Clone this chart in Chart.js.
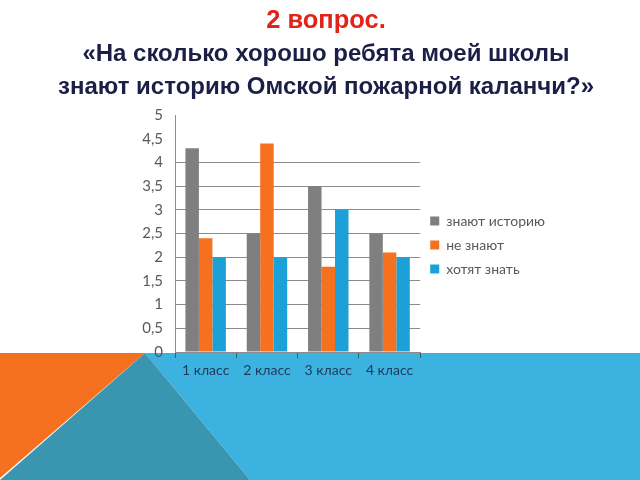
<!DOCTYPE html>
<html>
<head>
<meta charset="utf-8">
<script src="https://cdn.jsdelivr.net/npm/chart.js@4/dist/chart.umd.min.js"></script>
<style>
  body { margin: 0; width: 640px; height: 480px; overflow: hidden; background: #fff; }
  #wrap { position: relative; width: 640px; height: 480px; }
  #myChart { position: absolute; left: 0; top: 0; }
  .head { position: absolute; left: 0; width: 652px; text-align: center; font-family: "Liberation Sans", Arial, sans-serif; font-weight: bold; font-size: 24px; line-height: 33px; }
  #q { top: 3px; color: #e2231a; font-size: 25.5px; }
  #sub { top: 36px; color: #1b1f45; }
</style>
</head>
<body>
<div id="wrap">
  <canvas id="myChart" width="640" height="480"></canvas>
  <div class="head" id="q">2 вопрос.</div>
  <div class="head" id="sub">«На сколько хорошо ребята моей школы<br>знают историю Омской пожарной каланчи?»</div>
</div>
<script>
const categories = ["1 класс", "2 класс", "3 класс", "4 класс"];
const knowHistory = [4.3, 2.5, 3.5, 2.5];
const dontKnow = [2.4, 4.4, 1.8, 2.1];
const wantToKnow = [2, 2, 3, 2];
const seriesNames = ["знают историю", "не знают", "хотят знать"];

// slide decoration at the bottom
const slideBg = {
  id: "slideBg",
  beforeDraw: (chart) => {
    const c = chart.ctx;
    c.save();
    c.fillStyle = "#ffffff";
    c.fillRect(0, 0, 640, 480);
    c.fillStyle = "#3cb2e0";
    c.beginPath();
    c.moveTo(145, 353); c.lineTo(640, 353); c.lineTo(640, 480); c.lineTo(250, 480);
    c.fill();
    c.fillStyle = "#f5701f";
    c.beginPath();
    c.moveTo(0, 353); c.lineTo(145, 353); c.lineTo(0, 478);
    c.fill();
    c.fillStyle = "#3a95b1";
    c.beginPath();
    c.moveTo(145, 353); c.lineTo(250, 480); c.lineTo(0, 480);
    c.fill();
    c.restore();
  },
};

const ctx = document.getElementById("myChart").getContext("2d");
const myChart = new Chart(ctx, {
  type: "bar",
  data: {
    labels: categories,
    datasets: [
      { label: seriesNames[0], data: knowHistory, backgroundColor: "#7f7f7f" },
      { label: seriesNames[1], data: dontKnow, backgroundColor: "#f5701f" },
      { label: seriesNames[2], data: wantToKnow, backgroundColor: "#1ba1d8" },
    ],
  },
  plugins: [slideBg],
  options: {
    responsive: false,
    animation: false,
    layout: { padding: { top: 115, right: 85, left: 0, bottom: 0 } },
    datasets: { bar: { categoryPercentage: 0.66, barPercentage: 1.0 } },
    plugins: {
      tooltip: { enabled: false },
      legend: {
        position: "right",
        fullSize: false,
        title: { display: true, text: " ", font: { size: 1 }, padding: { top: 0, bottom: 22 } },
        labels: {
          boxWidth: 9,
          boxHeight: 9,
          padding: 10,
          color: "#595959",
          font: { family: "Lato", size: 14 },
        },
      },
    },
    scales: {
      x: {
        afterFit: (s) => { s.height = 128; },
        border: { color: "#8c8c8c" },
        grid: { offset: true, drawOnChartArea: false, tickLength: 6, color: "#555" },
        ticks: { color: "#1f3a58", padding: 4, font: { family: "Lato", size: 14 } },
      },
      y: {
        min: 0,
        max: 5,
        afterFit: (s) => { s.width = 175; },
        border: { color: "#8c8c8c" },
        grid: {
          drawTicks: false,
          color: (c) => (c.tick && c.tick.value <= 4 ? "#8c8c8c" : "transparent"),
        },
        ticks: {
          stepSize: 0.5,
          padding: 12,
          color: "#595959",
          font: { family: "Lato", size: 15 },
          callback: (v) => String(v).replace(".", ","),
        },
      },
    },
  },
});
</script>
</body>
</html>
